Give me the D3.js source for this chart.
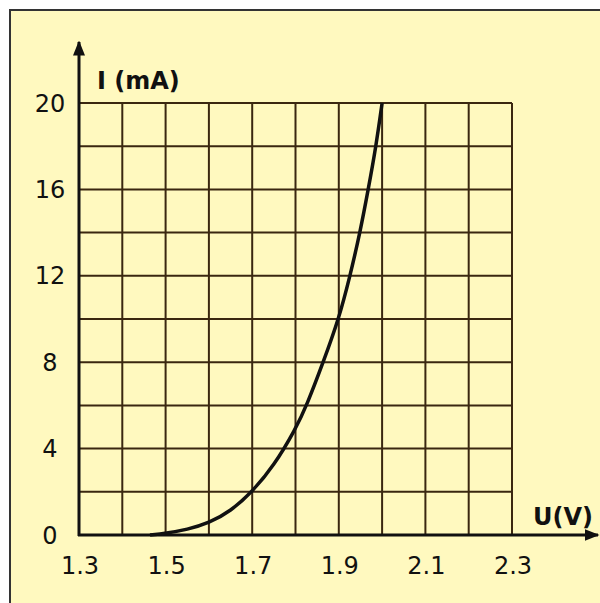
<!DOCTYPE html>
<html>
<head>
<meta charset="utf-8">
<script src="https://cdn.jsdelivr.net/npm/d3@7"></script>
<style>
  body { margin: 0; background: #fff; }
  text { font-family: "DejaVu Sans", Verdana, sans-serif; fill: #111; }
</style>
</head>
<body>
<div id="chart"></div>
<script>
// data
const voltage = [1.464, 1.5, 1.55, 1.6, 1.65, 1.7, 1.75, 1.8, 1.826, 1.864, 1.9, 1.926, 1.949, 1.968, 1.986, 2.0];
const current = [0, 0.08, 0.25, 0.55, 1.1, 2.0, 3.2, 4.9, 6, 8, 10, 12, 14, 16, 18, 20];
const xTicks = [1.3, 1.5, 1.7, 1.9, 2.1, 2.3];
const yTicks = [0, 4, 8, 12, 16, 20];
const xGrid = d3.range(14, 24).map(d => d / 10);
const yGrid = d3.range(2, 22, 2);

const width = 600, height = 603;

const svg = d3.select("#chart")
  .append("svg")
  .attr("width", width)
  .attr("height", height);

// frame
svg.append("rect")
  .attr("x", 10).attr("y", 10)
  .attr("width", 600).attr("height", 600)
  .attr("fill", "#fff9bf")
  .attr("stroke", "#333")
  .attr("stroke-width", 2);

const xScale = d3.scaleLinear().domain([1.3, 2.3]).range([79, 512]);
const yScale = d3.scaleLinear().domain([0, 20]).range([535, 103]);

// grid
svg.append("g")
  .selectAll("line")
  .data(xGrid)
  .join("line")
  .attr("x1", d => xScale(d)).attr("x2", d => xScale(d))
  .attr("y1", yScale(0)).attr("y2", yScale(20))
  .attr("stroke", "#3a2710")
  .attr("stroke-width", 2);

svg.append("g")
  .selectAll("line")
  .data(yGrid)
  .join("line")
  .attr("x1", xScale(1.3)).attr("x2", xScale(2.3))
  .attr("y1", d => yScale(d)).attr("y2", d => yScale(d))
  .attr("stroke", "#3a2710")
  .attr("stroke-width", 2);

// axes with arrows
svg.append("defs").append("marker")
  .attr("id", "arrow")
  .attr("viewBox", "0 0 10 10")
  .attr("refX", 9).attr("refY", 5)
  .attr("markerWidth", 5).attr("markerHeight", 5)
  .attr("orient", "auto")
  .append("path")
  .attr("d", "M0,1 L10,5 L0,9 Z")
  .attr("fill", "#111");

svg.append("line")
  .attr("x1", xScale(1.3)).attr("x2", xScale(1.3))
  .attr("y1", yScale(0) + 1).attr("y2", 42)
  .attr("stroke", "#111").attr("stroke-width", 3)
  .attr("marker-end", "url(#arrow)");

svg.append("line")
  .attr("x1", xScale(1.3) - 1).attr("x2", 598)
  .attr("y1", yScale(0)).attr("y2", yScale(0))
  .attr("stroke", "#111").attr("stroke-width", 3)
  .attr("marker-end", "url(#arrow)");

// curve
const points = voltage.map((v, i) => [v, current[i]]);
const line = d3.line()
  .x(d => xScale(d[0]))
  .y(d => yScale(d[1]))
  .curve(d3.curveBasis);

svg.append("path")
  .datum(points)
  .attr("d", line)
  .attr("fill", "none")
  .attr("stroke", "#111")
  .attr("stroke-width", 3.5);

// tick labels
svg.append("g")
  .selectAll("text")
  .data(xTicks)
  .join("text")
  .attr("x", d => xScale(d) + 1)
  .attr("y", 574)
  .attr("text-anchor", "middle")
  .attr("font-size", 24)
  .text(d => d.toFixed(1));

svg.append("g")
  .selectAll("text")
  .data(yTicks)
  .join("text")
  .attr("x", 50)
  .attr("y", d => yScale(d))
  .attr("dy", "0.36em")
  .attr("text-anchor", "middle")
  .attr("font-size", 24)
  .text(d => d);

// axis titles
svg.append("text")
  .attr("x", 97).attr("y", 89)
  .attr("font-size", 24)
  .attr("font-weight", "bold")
  .text("I (mA)");

svg.append("text")
  .attr("x", 533).attr("y", 525)
  .attr("font-size", 24)
  .attr("font-weight", "bold")
  .text("U(V)");
</script>
</body>
</html>
